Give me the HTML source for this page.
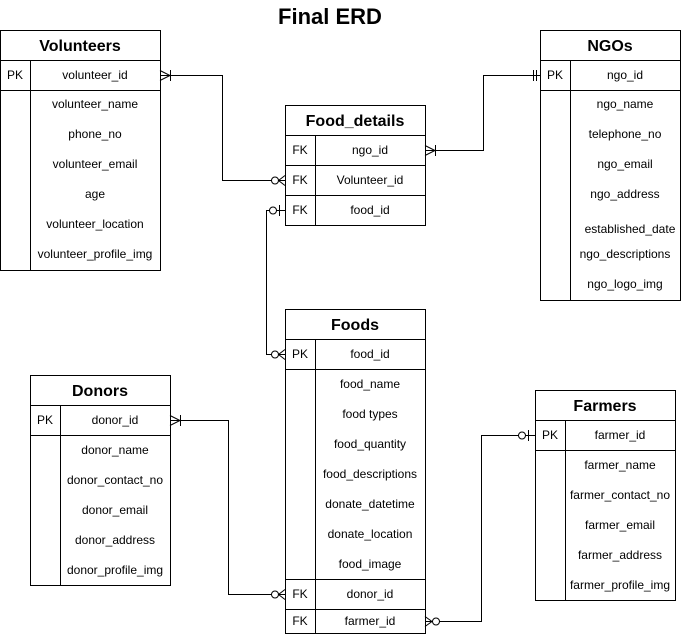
<!DOCTYPE html>
<html><head><meta charset="utf-8"><style>
html,body{margin:0;padding:0;background:#fff;width:684px;height:638px;overflow:hidden}
svg text{font-family:"Liberation Sans",Arial,sans-serif;fill:#000}
.t{font-size:12px;text-anchor:middle}
.h{font-size:16px;font-weight:bold;text-anchor:middle}
</style></head><body>
<svg width="684" height="638" viewBox="0 0 684 638" xmlns="http://www.w3.org/2000/svg">
<g fill="none" stroke="#000" stroke-width="1">
<!-- Volunteers -->
<rect x="0.5" y="30.5" width="160" height="240"/>
<line x1="0" y1="60.5" x2="160" y2="60.5"/><line x1="0" y1="90.5" x2="160" y2="90.5"/>
<line x1="30.5" y1="60" x2="30.5" y2="270"/>
<!-- NGOs -->
<rect x="540.5" y="30.5" width="140" height="270"/>
<line x1="540" y1="60.5" x2="680" y2="60.5"/><line x1="540" y1="90.5" x2="680" y2="90.5"/>
<line x1="570.5" y1="60" x2="570.5" y2="300"/>
<!-- Food_details -->
<rect x="285.5" y="105.5" width="140" height="120"/>
<line x1="285" y1="135.5" x2="425" y2="135.5"/><line x1="285" y1="165.5" x2="425" y2="165.5"/><line x1="285" y1="195.5" x2="425" y2="195.5"/>
<line x1="315.5" y1="135" x2="315.5" y2="225"/>
<!-- Foods -->
<rect x="285.5" y="309.5" width="140" height="324"/>
<line x1="285" y1="339.5" x2="425" y2="339.5"/><line x1="285" y1="369.5" x2="425" y2="369.5"/><line x1="285" y1="579.5" x2="425" y2="579.5"/><line x1="285" y1="609.5" x2="425" y2="609.5"/>
<line x1="315.5" y1="339" x2="315.5" y2="633"/>
<!-- Donors -->
<rect x="30.5" y="375.5" width="140" height="210"/>
<line x1="30" y1="405.5" x2="170" y2="405.5"/><line x1="30" y1="435.5" x2="170" y2="435.5"/>
<line x1="60.5" y1="405" x2="60.5" y2="585"/>
<!-- Farmers -->
<rect x="535.5" y="390.5" width="140" height="210"/>
<line x1="535" y1="420.5" x2="675" y2="420.5"/><line x1="535" y1="450.5" x2="675" y2="450.5"/>
<line x1="565.5" y1="420" x2="565.5" y2="600"/>

<!-- connectors -->
<polyline points="160,75.5 222.5,75.5 222.5,180.5 285,180.5"/>
<path d="M160,70.5 L170,75.5 L160,80.5 M170.5,70 V81"/>
<circle cx="275" cy="180.5" r="3.5" fill="#fff"/><path d="M285,175.5 L278.5,180.5 L285,185.5"/>

<polyline points="540,75.5 483.5,75.5 483.5,150.5 425,150.5"/>
<path d="M533.5,70 V81 M536.5,70 V81"/>
<path d="M425,145.5 L435,150.5 L425,155.5 M435.5,145 V156"/>

<polyline points="285,210.5 266.5,210.5 266.5,354.5 285,354.5"/>
<circle cx="273" cy="210.5" r="3.5" fill="#fff"/><path d="M279.5,205 V216"/>
<circle cx="275" cy="354.5" r="3.5" fill="#fff"/><path d="M285,349.5 L278.5,354.5 L285,359.5"/>

<polyline points="170,420.5 228.5,420.5 228.5,594.5 285,594.5"/>
<path d="M170,415.5 L180,420.5 L170,425.5 M180.5,415 V426"/>
<circle cx="275" cy="594.5" r="3.5" fill="#fff"/><path d="M285,589.5 L278.5,594.5 L285,599.5"/>

<polyline points="535,435.5 481.5,435.5 481.5,621.5 425,621.5"/>
<circle cx="522" cy="435.5" r="3.5" fill="#fff"/><path d="M528.5,430 V441"/>
<circle cx="436" cy="621.5" r="3.5" fill="#fff"/><path d="M425,616.5 L432,621.5 L425,626.5"/>
</g>

<text x="330" y="24" style="font-size:22px;font-weight:bold;text-anchor:middle">Final ERD</text>

<text class="h" x="80" y="51">Volunteers</text>
<text class="t" x="15" y="79">PK</text>
<text class="t" x="95" y="79">volunteer_id</text>
<text class="t" x="95" y="108">volunteer_name</text>
<text class="t" x="95" y="138">phone_no</text>
<text class="t" x="95" y="168">volunteer_email</text>
<text class="t" x="95" y="198">age</text>
<text class="t" x="95" y="228">volunteer_location</text>
<text class="t" x="95" y="258">volunteer_profile_img</text>

<text class="h" x="610" y="51">NGOs</text>
<text class="t" x="555" y="79">PK</text>
<text class="t" x="625" y="79">ngo_id</text>
<text class="t" x="625" y="108">ngo_name</text>
<text class="t" x="625" y="138">telephone_no</text>
<text class="t" x="625" y="168">ngo_email</text>
<text class="t" x="625" y="198">ngo_address</text>
<text class="t" x="630" y="233">established_date</text>
<text class="t" x="625" y="258">ngo_descriptions</text>
<text class="t" x="625" y="288">ngo_logo_img</text>

<text class="h" x="355" y="126">Food_details</text>
<text class="t" x="300" y="154">FK</text><text class="t" x="370" y="154">ngo_id</text>
<text class="t" x="300" y="184">FK</text><text class="t" x="370" y="184">Volunteer_id</text>
<text class="t" x="300" y="214">FK</text><text class="t" x="370" y="214">food_id</text>

<text class="h" x="355" y="330">Foods</text>
<text class="t" x="300" y="358">PK</text><text class="t" x="370" y="358">food_id</text>
<text class="t" x="370" y="388">food_name</text>
<text class="t" x="370" y="418">food types</text>
<text class="t" x="370" y="448">food_quantity</text>
<text class="t" x="370" y="478">food_descriptions</text>
<text class="t" x="370" y="508">donate_datetime</text>
<text class="t" x="370" y="538">donate_location</text>
<text class="t" x="370" y="568">food_image</text>
<text class="t" x="300" y="598">FK</text><text class="t" x="370" y="598">donor_id</text>
<text class="t" x="300" y="625">FK</text><text class="t" x="370" y="625">farmer_id</text>

<text class="h" x="100" y="396">Donors</text>
<text class="t" x="45" y="424">PK</text>
<text class="t" x="115" y="424">donor_id</text>
<text class="t" x="115" y="454">donor_name</text>
<text class="t" x="115" y="484">donor_contact_no</text>
<text class="t" x="115" y="514">donor_email</text>
<text class="t" x="115" y="544">donor_address</text>
<text class="t" x="115" y="574">donor_profile_img</text>

<text class="h" x="605" y="411">Farmers</text>
<text class="t" x="550" y="439">PK</text>
<text class="t" x="620" y="439">farmer_id</text>
<text class="t" x="620" y="469">farmer_name</text>
<text class="t" x="620" y="499">farmer_contact_no</text>
<text class="t" x="620" y="529">farmer_email</text>
<text class="t" x="620" y="559">farmer_address</text>
<text class="t" x="620" y="589">farmer_profile_img</text>
</svg>
</body></html>
